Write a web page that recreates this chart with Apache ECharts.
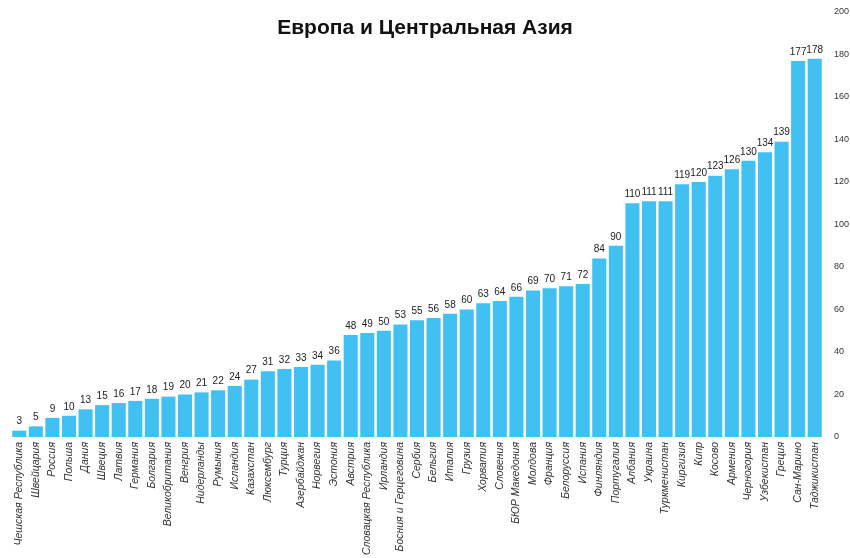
<!DOCTYPE html>
<html>
<head>
<meta charset="utf-8">
<script src="https://cdn.jsdelivr.net/npm/echarts@6/dist/echarts.min.js"></script>
<style>
  html, body { margin: 0; padding: 0; background: #fff; }
  #europeCentralAsia { width: 850px; height: 558px; }
</style>
</head>
<body>
<div id="europeCentralAsia"></div>
<script>
var countries = ['Чешская Республика', 'Швейцария', 'Россия', 'Польша', 'Дания', 'Швеция', 'Латвия',
  'Германия', 'Болгария', 'Великобритания', 'Венгрия', 'Нидерланды', 'Румыния', 'Исландия',
  'Казахстан', 'Люксембург', 'Турция', 'Азербайджан', 'Норвегия', 'Эстония', 'Австрия',
  'Словацкая Республика', 'Ирландия', 'Босния и Герцеговина', 'Сербия', 'Бельгия', 'Италия',
  'Грузия', 'Хорватия', 'Словения', 'БЮР Македония', 'Молдова', 'Франция', 'Белоруссия',
  'Испания', 'Финляндия', 'Португалия', 'Албания', 'Украина', 'Туркменистан', 'Киргизия',
  'Кипр', 'Косово', 'Армения', 'Черногория', 'Узбекистан', 'Греция', 'Сан-Марино', 'Таджикистан'];
var ranks = [3, 5, 9, 10, 13, 15, 16, 17, 18, 19, 20, 21, 22, 24, 27, 31, 32, 33, 34, 36, 48,
  49, 50, 53, 55, 56, 58, 60, 63, 64, 66, 69, 70, 71, 72, 84, 90, 110, 111, 111, 119,
  120, 123, 126, 130, 134, 139, 177, 178];

var europeCentralAsia = echarts.init(document.getElementById('europeCentralAsia'));
var europeCentralAsiaOptions = {
  animation: false,
  title: {
    text: 'Европа и Центральная Азия',
    left: 'center',
    top: 13,
    textStyle: { fontFamily: 'Liberation Sans', fontWeight: 'bold', fontSize: 21, color: '#111' }
  },
  grid: { left: 11, right: 27, top: 12, bottom: 121, outerBoundsMode: 'none', containLabel: false },
  xAxis: {
    type: 'category',
    data: countries,
    axisLine: { show: false },
    axisTick: { show: false },
    axisLabel: {
      rotate: 90,
      interval: 0,
      margin: 5,
      fontFamily: 'Liberation Sans',
      fontStyle: 'italic',
      fontSize: 10.5,
      color: '#333'
    }
  },
  yAxis: {
    type: 'value',
    position: 'right',
    min: 0,
    max: 200,
    interval: 20,
    splitLine: { show: false },
    axisLine: { show: false },
    axisTick: { show: false },
    axisLabel: { margin: 11, fontFamily: 'Liberation Sans', fontSize: 9, color: '#333' }
  },
  series: [
    {
      name: 'Европа и Центральная Азия',
      type: 'bar',
      data: ranks,
      barCategoryGap: '15%',
      itemStyle: { color: '#40c1f2' },
      label: {
        show: true,
        position: 'top',
        distance: 4,
        fontFamily: 'Liberation Sans',
        fontSize: 10,
        color: '#222'
      }
    }
  ]
};

europeCentralAsia.setOption(europeCentralAsiaOptions);
</script>
</body>
</html>
